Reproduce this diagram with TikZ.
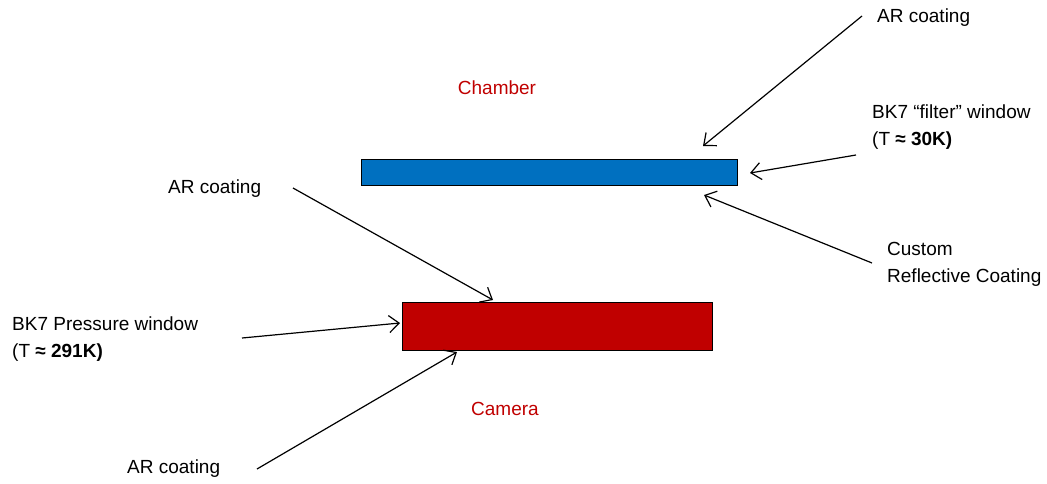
\documentclass[tikz,border=0pt]{standalone}
\usepackage{fontspec}
\setmainfont{Liberation Sans}
\usetikzlibrary{arrows.meta}
\definecolor{winblue}{HTML}{0070C0}
\definecolor{winred}{HTML}{C00000}
\begin{document}
\begin{tikzpicture}[x=1pt,y=-1pt,
  lbl/.style={anchor=west,inner sep=0pt,align=left,font=\fontsize{19}{27}\selectfont},
  reg/.style={anchor=center,inner sep=0pt,text=winred,font=\fontsize{19}{27}\selectfont},
  win/.style={draw=black,line width=1pt,inner sep=0pt,anchor=north west},
  ptr/.style={line width=1.2pt,-{Straight Barb[length=10pt,width=17pt,line width=1.2pt]}}]
\useasboundingbox (0,0) rectangle (1047,483);
% windows
\node[win,fill=winblue,minimum width=376pt,minimum height=26pt] (filter) at (361,159) {};
\node[win,fill=winred,minimum width=310pt,minimum height=48pt] (pressure) at (402,302) {};
% region labels
\node[reg] (chamber) at (497,88) {Chamber};
\node[reg] (camera) at (505,409) {Camera};
% labels
\node[lbl] (arTop) at (877,18) {AR coating};
\node[lbl] (bkFilter) at (872,127) {BK7 “filter” window\\(T \textbf{≈ 30K)}};
\node[lbl] (custom) at (887,264) {Custom\\Reflective Coating};
\node[lbl] (arMid) at (168,189) {AR coating};
\node[lbl] (bkPress) at (12,339) {BK7 Pressure window\\(T \textbf{≈ 291K)}};
\node[lbl] (arBot) at (127,469) {AR coating};
% arrow end points
\coordinate (s1) at (862,16);   \coordinate (t1) at (703,146);
\coordinate (s2) at (856,155);  \coordinate (t2) at (750,173);
\coordinate (s3) at (872,263);  \coordinate (t3) at (704,195);
\coordinate (s4) at (293,188);  \coordinate (t4) at (493,300);
\coordinate (s5) at (242,338);  \coordinate (t5) at (400,323);
\coordinate (s6) at (257,469);  \coordinate (t6) at (457,352);
\draw[ptr] (s1) -- (t1);
\draw[ptr] (s2) -- (t2);
\draw[ptr] (s3) -- (t3);
\draw[ptr] (s4) -- (t4);
\draw[ptr] (s5) -- (t5);
\draw[ptr] (s6) -- (t6);
\end{tikzpicture}
\end{document}
